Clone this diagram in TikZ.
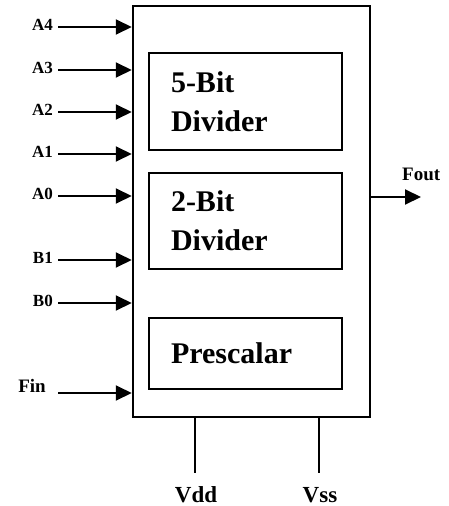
\documentclass[tikz,border=0pt]{standalone}
\usepackage{fontspec}
\setmainfont{Liberation Serif}
\usetikzlibrary{arrows.meta,positioning}
\tikzstyle{block}=[draw,line width=2.5pt,inner sep=0pt]
\tikzstyle{sub block} = [block, minimum width=193pt, text width=149pt, inner xsep=22pt, align=left,
    font=\bfseries\fontsize{30}{39}\selectfont]
\tikzstyle{pin label} = [font=\bfseries\fontsize{17}{19}\selectfont, anchor=east, inner sep=0pt]
\tikzstyle{signal} = [draw, line width=2pt, -{Triangle[length=16pt,width=15pt]}]
\tikzstyle{supply} = [draw, line width=2pt]

\begin{document}
\begin{tikzpicture}[x=1pt,y=-1pt]
    \useasboundingbox (0,0) rectangle (448,506);
    % the chip and its three blocks
    \node[block, minimum width=237pt, minimum height=411pt] (chip) at (251.5,211.5) {};
    \node[sub block, minimum height=97pt] (div5) at (245.5,101.5) {5-Bit\\Divider};
    \node[sub block, minimum height=96pt] (div2) at (245.5,221) {2-Bit\\Divider};
    \node[sub block, minimum height=71pt] (pre) at (245.5,353.5) {Prescalar};

    % inputs on the left
    \foreach \y/\name in {27/A4, 70/A3, 112/A2, 154/A1, 196/A0, 260/B1, 303/B0}{
        \coordinate (\name) at (58,\y);
        \node[pin label] (\name lbl) at (53,\y-2) {\name};
        \path[signal] (\name) -- (chip.west |- \name);
    }
    \coordinate (Fin) at (58,393);
    \node[pin label, font=\bfseries\fontsize{19}{21}\selectfont] (Fin lbl) at (46,386) {Fin};
    \path[signal] (Fin) -- (chip.west |- Fin);

    % output on the right
    \coordinate (Fout) at (421,197);
    \path[signal] (chip.east |- Fout) -- (Fout);
    \node[font=\bfseries\fontsize{19}{21}\selectfont, anchor=base west, inner sep=0pt] (Fout lbl) at (402,180) {Fout};

    % supply pins
    \foreach \x/\name in {195/Vdd, 319/Vss}{
        \coordinate (\name) at (\x,473);
        \path[supply] (chip.south -| \name) -- (\name);
        \node[font=\bfseries\fontsize{23}{25}\selectfont, anchor=base, inner sep=0pt] (\name lbl) at (\x+1,502) {\name};
    }
\end{tikzpicture}
\end{document}
